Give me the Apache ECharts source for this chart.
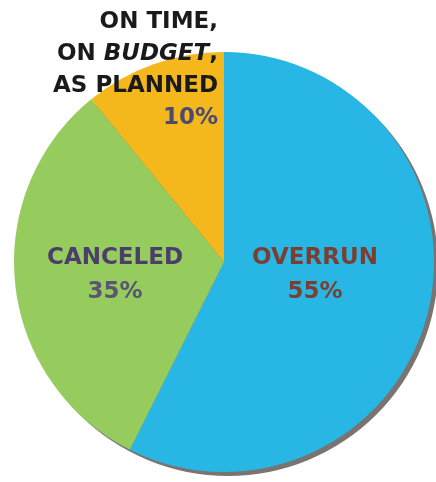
<!DOCTYPE html>
<html>
<head>
<meta charset="utf-8">
<script src="https://cdn.jsdelivr.net/npm/echarts@6/dist/echarts.min.js"></script>
<style>
html,body{margin:0;padding:0;background:#fff;}
#chart{width:436px;height:482px;}
</style>
</head>
<body>
<div id="chart"></div>
<script>
var categories = ['OVERRUN', 'CANCELED', 'ON TIME,\nON BUDGET,\nAS PLANNED'];
var shares = [57.4, 31.7, 10.9];
var percentLabels = ['55%', '35%', '10%'];

var colors = ['#28b7e5', '#96cc5e', '#f4b81d'];
var nameColors = ['#7b3f32', '#4b3e6b', '#1a1a1a'];
var pctColors = ['#7b3f32', '#5a5570', '#4a4a72'];
var labelAnchors = [
  {x: 315, y: 275, align: 'center'},
  {x: 115, y: 275, align: 'center'},
  {x: 218, y: 70, align: 'right'}
];

var chart = echarts.init(document.getElementById('chart'), null, {renderer: 'canvas'});

var data = categories.map(function (c, i) {
  var lines = c.split('\n');
  var isMulti = lines.length > 1;
  var lh = isMulti ? 32 : 34;
  var al = labelAnchors[i].align;
  var base = {fontSize: 23, fontWeight: 'bold', fontFamily: 'DejaVu Sans', lineHeight: lh, align: al};
  var rich = {
    n: Object.assign({color: nameColors[i]}, base),
    it: Object.assign({color: nameColors[i], fontStyle: 'italic'}, base),
    p: Object.assign({color: pctColors[i]}, base)
  };
  var txt = lines.map(function (l) {
    if (l.indexOf('BUDGET') >= 0) {
      var parts = l.split('BUDGET');
      return '{n|' + parts[0] + '}{it|BUDGET}{n|' + parts[1] + '}';
    }
    return '{n|' + l + '}';
  }).join('\n') + '\n{p|' + percentLabels[i] + '}';
  return {
    name: c,
    value: shares[i],
    itemStyle: {color: colors[i]},
    label: {show: true, formatter: txt, rich: rich, align: al}
  };
});

chart.setOption({
  animation: false,
  series: [
    {
      type: 'pie',
      silent: true,
      center: [228, 266],
      radius: 210,
      startAngle: 90,
      data: [{value: 1, itemStyle: {color: '#7a7370'}}],
      label: {show: false},
      labelLine: {show: false},
      z: 1
    },
    {
      type: 'pie',
      center: [224, 262],
      radius: 210,
      startAngle: 90,
      clockwise: true,
      data: data,
      itemStyle: {borderWidth: 0},
      label: {position: 'inside'},
      labelLine: {show: false},
      labelLayout: function (params) {
        var a = labelAnchors[params.dataIndex];
        return {x: a.x, y: a.y, align: a.align, verticalAlign: 'middle'};
      },
      z: 2
    }
  ]
});
</script>
</body>
</html>
